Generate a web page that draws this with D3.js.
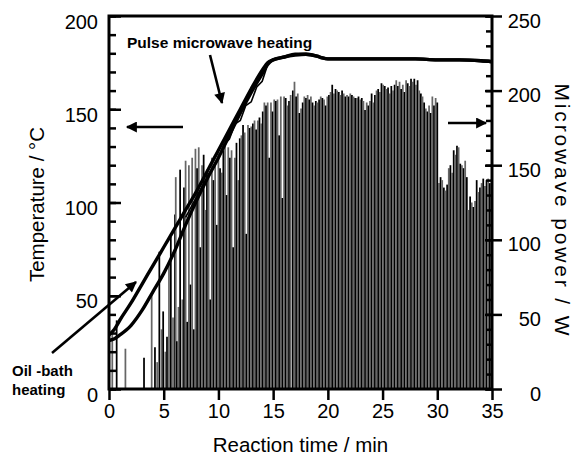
<!DOCTYPE html>
<html>
<head>
<meta charset="utf-8">
<script src="https://cdn.jsdelivr.net/npm/d3@7"></script>
<style>
  body { margin: 0; background: #fff; }
  svg text { font-family: Arial, "Liberation Sans", Helvetica, sans-serif; }
</style>
</head>
<body>
<div id="vis-container"></div>
<script>
// ---- data ----
const xTicks = [0, 5, 10, 15, 20, 25, 30, 35];
const tempTicks = [0, 50, 100, 150, 200];
const powerTicks = [0, 50, 100, 150, 200, 250];

// temperature curves (time in min, temperature in degC)
const tempTime = [0, 0.5, 1, 2, 3, 4, 5, 6, 7, 8, 9, 10, 11, 12, 13, 14, 14.5, 15, 16, 17, 18, 19, 19.5, 20, 22, 24, 26, 28, 30, 32, 34, 35];
const oilBathTemp = [29, 32, 37, 46, 56, 66, 76, 86, 96, 106, 117, 128, 139, 150, 161, 171, 175, 176.5, 178, 179.5, 179.5, 178.5, 177.5, 177, 177, 177, 177, 177, 176.5, 176.5, 176, 175.5];
const pulseTemp = [26, 27, 29, 34, 42, 52, 62, 74, 88, 101, 113, 124, 136, 148, 159, 169, 174, 176.5, 178, 179, 179.5, 178.5, 177.5, 177, 177, 177, 177, 177, 176.5, 176.5, 176, 175.5];
const pulseRun2Time = [7, 8, 9, 10, 10.5, 11, 11.5, 12, 12.5, 13, 13.5, 14, 14.5, 15];
const pulseRun2Temp = [92, 103, 114, 124, 131, 134, 142, 144, 152, 154, 162, 165, 174, 176.5];

// microwave pulses: [time in min, power in W]
const pulses = [
  [0.3, 38], [0.7, 46], [1.5, 27], [3.2, 21], [3.9, 64],
  [4.2, 28], [4.4, 18], [4.6, 92], [4.8, 40], [4.95, 52], [5.15, 25], [5.3, 35], [5.48, 85], [5.65, 102], [5.85, 48],
  [6.03, 117], [6.1, 142], [6.2, 32], [6.35, 55], [6.5, 147], [6.7, 60], [6.85, 135],
  [7.0, 153], [7.15, 45], [7.3, 150], [7.45, 70], [7.6, 155], [7.75, 40], [7.9, 161],
  [8.05, 148], [8.2, 162], [8.35, 95], [8.5, 150], [8.65, 157], [8.8, 120], [8.95, 147],
  [9.1, 145], [9.25, 60], [9.4, 155], [9.55, 140], [9.7, 150], [9.85, 110],
  [10.0, 158], [10.15, 148], [10.3, 145], [10.45, 160], [10.6, 163], [10.75, 130], [10.9, 162],
  [11.05, 155], [11.2, 160], [11.35, 95], [11.5, 155], [11.65, 165], [11.8, 140], [11.95, 168],
  [12.1, 170], [12.25, 177], [12.4, 172], [12.55, 104], [12.7, 177], [12.85, 175],
  [13.0, 176], [13.15, 178], [13.3, 180], [13.45, 174], [13.6, 180], [13.75, 182], [13.9, 178],
  [14.05, 186], [14.2, 192], [14.35, 190], [14.5, 192], [14.65, 155], [14.8, 192], [14.95, 186],
  [15.1, 194], [15.25, 193], [15.4, 194], [15.55, 170], [15.7, 196], [15.85, 128],
  [16.0, 196], [16.15, 195], [16.3, 190], [16.45, 193], [16.6, 197], [16.8, 200], [16.95, 206],
  [17.1, 196], [17.25, 198], [17.4, 185], [17.55, 188], [17.7, 192], [17.85, 196],
  [18.0, 195], [18.15, 197], [18.3, 194], [18.45, 196], [18.6, 192], [18.75, 190], [18.9, 193],
  [19.05, 192], [19.2, 194], [19.35, 196], [19.5, 195], [19.65, 194], [19.8, 190], [19.95, 196],
  [20.1, 197], [20.25, 199], [20.4, 204], [20.55, 198], [20.7, 201], [20.85, 200],
  [21.0, 199], [21.15, 197], [21.3, 200], [21.45, 198], [21.6, 196], [21.75, 197], [21.9, 196],
  [22.05, 198], [22.2, 197], [22.35, 196], [22.5, 195], [22.65, 195], [22.8, 196], [22.95, 194],
  [23.1, 195], [23.25, 193], [23.4, 187], [23.55, 192], [23.7, 190], [23.85, 193],
  [24.0, 198], [24.15, 192], [24.3, 197], [24.45, 200], [24.6, 201], [24.75, 199], [24.9, 205],
  [25.05, 204], [25.2, 203], [25.35, 201], [25.5, 202], [25.65, 198], [25.8, 203], [25.95, 200],
  [26.1, 204], [26.25, 207], [26.4, 203], [26.55, 206], [26.7, 201], [26.85, 204],
  [27.0, 199], [27.15, 207], [27.3, 205], [27.45, 203], [27.6, 208], [27.75, 206], [27.9, 208],
  [28.05, 204], [28.2, 207], [28.35, 200], [28.5, 198], [28.65, 196], [28.8, 192], [28.95, 188],
  [29.1, 186], [29.25, 190], [29.4, 185], [29.55, 196], [29.7, 190], [29.85, 195],
  [30.0, 192], [30.15, 138], [30.3, 142], [30.45, 140], [30.6, 135], [30.75, 133], [30.9, 137],
  [31.05, 148], [31.2, 150], [31.35, 145], [31.5, 160], [31.65, 157], [31.8, 163], [31.95, 162],
  [32.1, 151], [32.25, 150], [32.4, 148], [32.55, 153], [32.7, 142], [32.85, 120],
  [33.0, 129], [33.15, 125], [33.3, 122], [33.45, 126], [33.6, 140], [33.75, 132], [33.9, 135],
  [34.05, 138], [34.2, 141], [34.35, 136], [34.5, 140], [34.65, 141], [34.8, 138]
];

// ---- layout ----
const width = 574;
const height = 455;
const margin = { top: 16, right: 82, bottom: 66, left: 109 };

const svg = d3.select("#vis-container")
  .append("svg")
  .attr("width", width)
  .attr("height", height)
  .attr("viewBox", [0, 0, width, height]);

const x = d3.scaleLinear()
  .domain([0, 35])
  .range([margin.left, width - margin.right]);

const yT = d3.scaleLinear()
  .domain([0, 200])
  .range([height - margin.bottom, margin.top]);

const yP = d3.scaleLinear()
  .domain([0, 250])
  .range([height - margin.bottom, margin.top]);

// microwave pulses
svg.append("g")
  .selectAll("line")
  .data(pulses)
  .join("line")
    .attr("x1", d => x(d[0]))
    .attr("x2", d => x(d[0]))
    .attr("y1", yP(0))
    .attr("y2", d => yP(d[1]))
    .attr("stroke", (d, i) => i % 2 ? "#000" : "#666")
    .attr("stroke-width", 1.75);

// temperature curves
const line = d3.line()
  .x(d => x(d[0]))
  .y(d => yT(d[1]))
  .curve(d3.curveMonotoneX);

svg.append("path")
  .datum(tempTime.map((t, i) => [t, oilBathTemp[i]]))
  .attr("fill", "none")
  .attr("stroke", "#000")
  .attr("stroke-width", 3.4)
  .attr("d", line);

svg.append("path")
  .datum(tempTime.map((t, i) => [t, pulseTemp[i]]))
  .attr("fill", "none")
  .attr("stroke", "#000")
  .attr("stroke-width", 3.4)
  .attr("d", line);

svg.append("path")
  .datum(pulseRun2Time.map((t, i) => [t, pulseRun2Temp[i]]))
  .attr("fill", "none")
  .attr("stroke", "#000")
  .attr("stroke-width", 1.6)
  .attr("d", line.curve(d3.curveLinear));

// axes
const tickFont = "20px";

// left axis: majors inside with labels, minors inside
svg.append("g")
  .attr("transform", `translate(${margin.left},0)`)
  .call(d3.axisLeft(yT).tickValues(d3.range(0, 201, 10)).tickSize(-7).tickFormat(""))
  .call(g => g.select(".domain").remove())
  .call(g => g.selectAll("line").attr("stroke-width", 2.5));

svg.append("g")
  .attr("transform", `translate(${margin.left},0)`)
  .call(d3.axisLeft(yT).tickValues(tempTicks).tickSizeInner(-12).tickSizeOuter(0).tickPadding(11))
  .attr("font-size", tickFont)
  .call(g => g.select(".domain").remove())
  .call(g => g.selectAll("line").attr("stroke-width", 2.5))
  .call(g => g.selectAll("text").attr("dy", "0.6em").attr("fill", "#000"));

// right axis
svg.append("g")
  .attr("transform", `translate(${width - margin.right},0)`)
  .call(d3.axisRight(yP).tickValues(d3.range(0, 251, 10)).tickSize(-6).tickFormat(""))
  .call(g => g.select(".domain").remove())
  .call(g => g.selectAll("line").attr("stroke-width", 2.5));

svg.append("g")
  .attr("transform", `translate(${width - margin.right},0)`)
  .call(d3.axisRight(yP).tickValues(powerTicks).tickSizeInner(-7).tickSizeOuter(0).tickFormat(""))
  .call(g => g.select(".domain").remove())
  .call(g => g.selectAll("line").attr("stroke-width", 2.5));

svg.append("g")
  .attr("transform", `translate(${width - margin.right},0)`)
  .call(d3.axisRight(yP).tickValues(powerTicks).tickSizeInner(10).tickSizeOuter(0).tickPadding(4))
  .attr("font-size", tickFont)
  .call(g => g.select(".domain").remove())
  .call(g => g.selectAll("line").attr("stroke-width", 2.5))
  .call(g => g.selectAll("text")
    .attr("x", 49)
    .attr("text-anchor", "end")
    .attr("dy", "0.55em")
    .attr("fill", "#000"));

// bottom axis
svg.append("g")
  .attr("transform", `translate(0,${height - margin.bottom})`)
  .call(d3.axisBottom(x).tickValues(xTicks).tickSizeInner(11).tickSizeOuter(0).tickPadding(4))
  .attr("font-size", tickFont)
  .call(g => g.select(".domain").remove())
  .call(g => g.selectAll("line").attr("stroke-width", 2.5))
  .call(g => g.selectAll("text").attr("fill", "#000"));

// frame
svg.append("rect")
  .attr("x", margin.left)
  .attr("y", margin.top)
  .attr("width", width - margin.left - margin.right)
  .attr("height", height - margin.top - margin.bottom)
  .attr("fill", "none")
  .attr("stroke", "#000")
  .attr("stroke-width", 3);

// axis titles
svg.append("text")
  .attr("transform", `translate(44,${(yT(0) + yT(200)) / 2 + 2}) rotate(-90)`)
  .attr("text-anchor", "middle")
  .attr("font-size", "20.5px")
  .text("Temperature / °C");

svg.append("text")
  .attr("transform", `translate(555,${(yP(0) + yP(250)) / 2 + 7}) rotate(90)`)
  .attr("text-anchor", "middle")
  .attr("font-size", "21px")
  .attr("textLength", 252)
  .attr("lengthAdjust", "spacing")
  .text("Microwave power / W");

svg.append("text")
  .attr("x", (x(0) + x(35)) / 2)
  .attr("y", 452)
  .attr("text-anchor", "middle")
  .attr("font-size", "20.5px")
  .text("Reaction time / min");

// annotations
const defs = svg.append("defs");
defs.append("marker")
  .attr("id", "head")
  .attr("viewBox", "0 0 10 10")
  .attr("refX", 9)
  .attr("refY", 5)
  .attr("markerUnits", "userSpaceOnUse")
  .attr("markerWidth", 16)
  .attr("markerHeight", 11)
  .attr("orient", "auto")
  .append("path")
  .attr("d", "M0,0 L10,5 L0,10 Z")
  .attr("fill", "#000");

const arrows = [
  [[210, 55], [222, 103]],
  [[183, 127], [127, 127]],
  [[448, 123], [486, 123]],
  [[52, 353], [136, 282]]
];

svg.append("g")
  .selectAll("line")
  .data(arrows)
  .join("line")
    .attr("x1", d => d[0][0])
    .attr("y1", d => d[0][1])
    .attr("x2", d => d[1][0])
    .attr("y2", d => d[1][1])
    .attr("stroke", "#000")
    .attr("stroke-width", 2.6)
    .attr("marker-end", "url(#head)");

svg.append("text")
  .attr("x", 127)
  .attr("y", 48)
  .attr("font-size", "15.5px")
  .attr("font-weight", "bold")
  .text("Pulse microwave heating");

svg.append("text")
  .attr("x", 12)
  .attr("y", 376)
  .attr("font-size", "15px")
  .attr("font-weight", "bold")
  .text("Oil -bath");

svg.append("text")
  .attr("x", 12)
  .attr("y", 395)
  .attr("font-size", "15px")
  .attr("font-weight", "bold")
  .text("heating");
</script>
</body>
</html>
